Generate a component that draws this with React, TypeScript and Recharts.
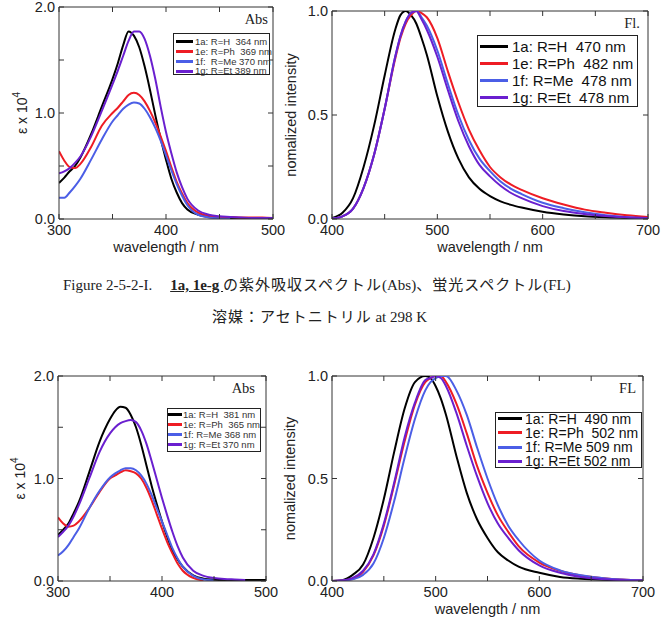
import { LineChart, Line, XAxis, YAxis, Legend, ReferenceLine, Label } from "recharts";

const SANS = '"Liberation Sans", Arial, sans-serif';
const SERIF = '"Liberation Serif", "Times New Roman", "Noto Sans CJK JP", serif';
const FRAME = "#333";
const TEXT = "#222";

const seriesColors = ["#000000", "#ee1c24", "#4b5ee6", "#6a1fcf"];

// absorption, first set (ε / 10^4)
const absWavelengths = [300, 305, 310, 315, 320, 330, 340, 350, 355, 360, 365, 370, 375, 380, 385, 390, 395, 400, 405, 410, 415, 420, 430, 440, 450, 460, 470, 480, 490, 500];
const absTop1a = [0.34, 0.39, 0.45, 0.5, 0.58, 0.8, 1.06, 1.32, 1.47, 1.64, 1.77, 1.73, 1.62, 1.44, 1.22, 0.98, 0.76, 0.56, 0.38, 0.25, 0.15, 0.09, 0.04, 0.02, 0.015, 0.01, 0.01, 0.01, 0.01, 0.01];
const absTop1e = [0.64, 0.55, 0.49, 0.48, 0.52, 0.68, 0.88, 1.0, 1.05, 1.11, 1.17, 1.19, 1.17, 1.11, 1.02, 0.91, 0.78, 0.64, 0.49, 0.35, 0.24, 0.15, 0.06, 0.03, 0.02, 0.02, 0.015, 0.015, 0.015, 0.01];
const absTop1f = [0.2, 0.2, 0.25, 0.31, 0.38, 0.56, 0.75, 0.92, 0.98, 1.04, 1.08, 1.1, 1.09, 1.04, 0.96, 0.86, 0.74, 0.6, 0.46, 0.33, 0.22, 0.13, 0.04, 0.015, 0.005, 0, null, null, null, null];
const absTop1g = [0.43, 0.45, 0.48, 0.53, 0.59, 0.78, 1.02, 1.27, 1.4, 1.54, 1.68, 1.77, 1.77, 1.7, 1.54, 1.32, 1.06, 0.82, 0.62, 0.44, 0.3, 0.19, 0.08, 0.04, 0.025, 0.02, 0.015, 0.01, 0.01, 0.01];
const absTopNames = ["1a: R=H  364 nm", "1e: R=Ph  369 nm", "1f:  R=Me 370 nm", "1g: R=Et 389 nm"];

// fluorescence, first set (normalized)
const flTopWavelengths = [400, 410, 420, 430, 440, 450, 460, 465, 470, 475, 480, 485, 490, 500, 510, 520, 530, 540, 550, 560, 570, 580, 600, 620, 640, 660, 680, 700];
const flTop1a = [0.005, 0.03, 0.1, 0.25, 0.45, 0.69, 0.91, 0.98, 1.0, 0.98, 0.94, 0.87, 0.79, 0.59, 0.42, 0.29, 0.2, 0.145, 0.11, 0.085, 0.068, 0.055, 0.035, 0.022, 0.013, 0.008, 0.005, 0.003];
const flTop1e = [0.002, 0.013, 0.05, 0.15, 0.31, 0.53, 0.77, 0.87, 0.94, 0.98, 1.0, 0.99, 0.97, 0.87, 0.71, 0.56, 0.43, 0.33, 0.25, 0.2, 0.165, 0.14, 0.1, 0.07, 0.045, 0.03, 0.018, 0.01];
const flTop1f = [0.002, 0.013, 0.05, 0.15, 0.31, 0.53, 0.78, 0.88, 0.95, 0.99, 1.0, 0.97, 0.93, 0.81, 0.65, 0.5, 0.38, 0.29, 0.23, 0.18, 0.145, 0.12, 0.078, 0.052, 0.032, 0.018, 0.009, 0.005];
const flTop1g = [0.002, 0.013, 0.05, 0.15, 0.31, 0.53, 0.78, 0.88, 0.95, 0.99, 1.0, 0.96, 0.91, 0.78, 0.62, 0.47, 0.35, 0.26, 0.205, 0.16, 0.125, 0.1, 0.062, 0.038, 0.024, 0.014, 0.008, 0.005];
const flTopNames = ["1a: R=H  470 nm", "1e: R=Ph  482 nm", "1f: R=Me  478 nm", "1g: R=Et  478 nm"];

// absorption, second set
const absBot1a = [0.45, 0.5, 0.56, 0.66, 0.77, 1.06, 1.36, 1.58, 1.66, 1.7, 1.69, 1.62, 1.5, 1.33, 1.13, 0.93, 0.75, 0.58, 0.43, 0.3, 0.21, 0.14, 0.055, 0.023, 0.013, 0.01, 0.01, 0.01, 0.01, 0.01];
const absBot1e = [0.62, 0.56, 0.53, 0.54, 0.58, 0.71, 0.87, 1.0, 1.03, 1.06, 1.08, 1.07, 1.05, 1.0, 0.91, 0.79, 0.65, 0.51, 0.38, 0.27, 0.17, 0.1, 0.03, 0.005, null, null, null, null, null, null];
const absBot1f = [0.25, 0.29, 0.35, 0.43, 0.51, 0.71, 0.88, 1.01, 1.05, 1.08, 1.1, 1.1, 1.08, 1.03, 0.95, 0.84, 0.71, 0.58, 0.45, 0.32, 0.22, 0.14, 0.05, 0.015, 0.005, null, null, null, null, null];
const absBot1g = [0.43, 0.48, 0.54, 0.63, 0.74, 1.0, 1.26, 1.44, 1.5, 1.54, 1.56, 1.57, 1.55, 1.47, 1.34, 1.17, 0.99, 0.81, 0.64, 0.48, 0.34, 0.23, 0.1, 0.05, 0.03, 0.02, 0.015, 0.01, null, null];
const absBotNames = ["1a: R=H  381 nm", "1e: R=Ph  365 nm", "1f: R=Me 368 nm", "1g: R=Et 370 nm"];

// fluorescence, second set
const flBotWavelengths = [400, 410, 420, 430, 440, 450, 460, 470, 480, 490, 495, 500, 505, 510, 520, 530, 540, 550, 560, 570, 580, 600, 620, 640, 660, 680, 700];
const flBot1a = [0, 0.004, 0.03, 0.08, 0.21, 0.4, 0.63, 0.84, 0.97, 1.0, 0.99, 0.95, 0.89, 0.81, 0.61, 0.43, 0.3, 0.21, 0.14, 0.1, 0.07, 0.04, 0.02, 0.011, 0.006, 0.003, 0.002];
const flBot1e = [0, 0.003, 0.01, 0.045, 0.125, 0.27, 0.47, 0.68, 0.86, 0.97, 0.99, 1.0, 1.0, 0.97, 0.865, 0.72, 0.56, 0.43, 0.32, 0.24, 0.17, 0.09, 0.05, 0.027, 0.015, 0.007, 0.003];
const flBot1f = [0, 0.002, 0.008, 0.03, 0.085, 0.21, 0.39, 0.6, 0.79, 0.93, 0.97, 0.99, 1.0, 1.0, 0.93, 0.81, 0.65, 0.5, 0.37, 0.27, 0.2, 0.1, 0.052, 0.028, 0.015, 0.007, 0.003];
const flBot1g = [0, 0.003, 0.015, 0.05, 0.13, 0.28, 0.48, 0.7, 0.87, 0.98, 0.99, 1.0, 0.99, 0.95, 0.82, 0.66, 0.51, 0.38, 0.28, 0.21, 0.15, 0.076, 0.04, 0.02, 0.01, 0.005, 0.002];
const flBotNames = ["1a: R=H  490 nm", "1e: R=Ph  502 nm", "1f: R=Me 509 nm", "1g: R=Et 502 nm"];

const absXTicks = [300, 350, 400, 450, 500];
const absXLabels = [300, 400, 500];
const absYTicks = [0, 0.5, 1, 1.5, 2];
const absYLabels = [0, 1, 2];
const flXTicks = [400, 450, 500, 550, 600, 650, 700];
const flXLabels = [400, 500, 600, 700];
const flYTicks = [0, 0.5, 1];
const flYLabels = [0, 0.5, 1];

const KEYS = ["s0", "s1", "s2", "s3"];

function toRows(xs: number[], ys: (number | null)[][]) {
  return xs.map((w, i) => {
    const row: Record<string, number | null> = { w };
    ys.forEach((s, k) => (row[KEYS[k]] = s[i]));
    return row;
  });
}

type LegendBox = {
  left: number; top: number; width: number; height: number;
  fontSize: number; rowH: number; firstCenter: number; padLeft: number;
  sampleW: number; sampleH: number; gap: number; color: string;
};

type PanelDef = {
  left: number; top: number; width: number; height: number;
  mTop: number; mRight: number; yAxisWidth: number; xAxisHeight: number;
  rows: Record<string, number | null>[]; names: string[];
  xDomain: [number, number]; xTicks: number[]; xLabels: number[];
  yDomain: [number, number]; yTicks: number[]; yLabels: number[];
  tag: string; tagRight: number;
  kind: "abs" | "fl"; yTitleX: number; xTitle: boolean;
  legend: LegendBox;
};

// boxed legend, each row placed at a fixed pitch
function legendContent(box: LegendBox) {
  return (props: any) => {
    const items = props.payload ?? [];
    return (
      <div
        style={{
          position: "relative", boxSizing: "border-box", width: box.width, height: box.height,
          border: "1px solid #222", background: "#fff",
          fontFamily: SANS, fontSize: box.fontSize, color: box.color,
        }}
      >
        {items.map((it: any, i: number) => (
          <div
            key={it.value}
            style={{
              position: "absolute", left: box.padLeft, top: box.firstCenter - 1 - box.rowH / 2 + i * box.rowH,
              height: box.rowH, display: "flex", alignItems: "center", whiteSpace: "pre", lineHeight: 1,
            }}
          >
            <span style={{ display: "inline-block", width: box.sampleW, height: box.sampleH, background: it.color, marginRight: box.gap }} />
            <span>{it.value}</span>
          </div>
        ))}
      </div>
    );
  };
}

function Panel({ p }: { p: PanelDef }) {
  const plotTop = p.mTop;
  const plotRight = p.width - p.mRight;
  const plotLeft = p.yAxisWidth;
  const plotBottom = p.height - p.xAxisHeight;
  const fmtX = (v: number) => String(v);
  const fmtY = (v: number) => v.toFixed(1);

  const xTick = (props: any) => {
    const { x, y, payload } = props;
    const v = payload.value;
    return (
      <g>
        <line x1={x} y1={y} x2={x} y2={y - 5} stroke={FRAME} />
        <line x1={x} y1={plotTop} x2={x} y2={plotTop + 5} stroke={FRAME} />
        {p.xLabels.includes(v) && (
          <text x={x} y={y + 16} textAnchor="middle" fontFamily={SANS} fontSize={14.5} fill={TEXT}>
            {fmtX(v)}
          </text>
        )}
      </g>
    );
  };

  const yTick = (props: any) => {
    const { x, y, payload } = props;
    const v = payload.value;
    return (
      <g>
        <line x1={x} y1={y} x2={x + 5} y2={y} stroke={FRAME} />
        <line x1={plotRight} y1={y} x2={plotRight - 5} y2={y} stroke={FRAME} />
        {p.yLabels.includes(v) && (
          <text x={x - 4} y={y + 5} textAnchor="end" fontFamily={SANS} fontSize={14.5} fill={TEXT}>
            {fmtY(v)}
          </text>
        )}
      </g>
    );
  };

  const cy = (plotTop + plotBottom) / 2;
  const yTitle = () =>
    p.kind === "abs" ? (
      <text x={p.yTitleX} y={cy} transform={`rotate(-90 ${p.yTitleX} ${cy})`} textAnchor="middle" fontFamily={SANS} fontSize={14} fill={TEXT}>
        ε x 10<tspan dy={-7} fontSize={10}>4</tspan>
      </text>
    ) : (
      <text x={p.yTitleX} y={cy} transform={`rotate(-90 ${p.yTitleX} ${cy})`} textAnchor="middle" fontFamily={SANS} fontSize={14.5} fill={TEXT}>
        nomalized intensity
      </text>
    );

  const xTitle = () => (
    <text x={(plotLeft + plotRight) / 2} y={plotBottom + 33} textAnchor="middle" fontFamily={SANS} fontSize={14.5} fill={TEXT}>
      wavelength / nm
    </text>
  );

  const tagLabel = () => (
    <text x={plotRight - p.tagRight} y={plotTop + 17} textAnchor="end" fontFamily={SERIF} fontSize={14.5} fill={TEXT}>
      {p.tag}
    </text>
  );

  return (
    <div style={{ position: "absolute", left: p.left, top: p.top }}>
      <LineChart width={p.width} height={p.height} data={p.rows} margin={{ top: p.mTop, right: p.mRight, bottom: 0, left: 0 }}>
        <XAxis
          dataKey="w" type="number" domain={p.xDomain} ticks={p.xTicks} interval={0}
          height={p.xAxisHeight} tickSize={0} tickMargin={0} tickLine={false}
          axisLine={{ stroke: FRAME }} tick={xTick} allowDataOverflow
        >
          {p.xTitle ? <Label content={xTitle} /> : null}
        </XAxis>
        <YAxis
          type="number" domain={p.yDomain} ticks={p.yTicks} interval={0}
          width={p.yAxisWidth} tickSize={0} tickMargin={0} tickLine={false}
          axisLine={{ stroke: FRAME }} tick={yTick} allowDataOverflow
        >
          <Label content={yTitle} />
        </YAxis>
        <ReferenceLine y={p.yDomain[1]} stroke={FRAME} label={tagLabel} />
        <ReferenceLine x={p.xDomain[1]} stroke={FRAME} />
        {p.names.map((name, k) => (
          <Line
            key={name} dataKey={KEYS[k]} name={name} type="monotone"
            stroke={seriesColors[k]} strokeWidth={2} dot={false} activeDot={false}
            isAnimationActive={false}
          />
        ))}
        <Legend
          content={legendContent(p.legend)}
          layout="vertical" align="center" verticalAlign="middle"
          wrapperStyle={{ left: p.legend.left, top: p.legend.top, width: p.legend.width, height: p.legend.height }}
        />
      </LineChart>
    </div>
  );
}

const panels: PanelDef[] = [
  {
    left: 0, top: 0, width: 285, height: 260, mTop: 7, mRight: 12, yAxisWidth: 59, xAxisHeight: 41,
    rows: toRows(absWavelengths, [absTop1a, absTop1e, absTop1f, absTop1g]), names: absTopNames,
    xDomain: [300, 500], xTicks: absXTicks, xLabels: absXLabels,
    yDomain: [0, 2], yTicks: absYTicks, yLabels: absYLabels,
    tag: "Abs", tagRight: 5, kind: "abs", yTitleX: 27, xTitle: true,
    legend: { left: 173, top: 33, width: 97, height: 42, fontSize: 9.5, rowH: 9.7, firstCenter: 9, padLeft: 2, sampleW: 17, sampleH: 3, gap: 2, color: "#333" },
  },
  {
    left: 280, top: 0, width: 382, height: 260, mTop: 11, mRight: 14, yAxisWidth: 52, xAxisHeight: 41,
    rows: toRows(flTopWavelengths, [flTop1a, flTop1e, flTop1f, flTop1g]), names: flTopNames,
    xDomain: [400, 700], xTicks: flXTicks, xLabels: flXLabels,
    yDomain: [0, 1], yTicks: flYTicks, yLabels: flYLabels,
    tag: "Fl.", tagRight: 8, kind: "fl", yTitleX: 16, xTitle: true,
    legend: { left: 197, top: 35, width: 161, height: 72, fontSize: 15, rowH: 17, firstCenter: 11, padLeft: 2, sampleW: 28, sampleH: 3, gap: 4, color: "#111" },
  },
  {
    left: 0, top: 360, width: 278, height: 261, mTop: 16, mRight: 12, yAxisWidth: 58, xAxisHeight: 40,
    rows: toRows(absWavelengths, [absBot1a, absBot1e, absBot1f, absBot1g]), names: absBotNames,
    xDomain: [300, 500], xTicks: absXTicks, xLabels: absXLabels,
    yDomain: [0, 2], yTicks: absYTicks, yLabels: absYLabels,
    tag: "Abs", tagRight: 11, kind: "abs", yTitleX: 25, xTitle: false,
    legend: { left: 167, top: 48, width: 94, height: 44, fontSize: 9.5, rowH: 10, firstCenter: 6.5, padLeft: 0, sampleW: 14, sampleH: 3, gap: 1, color: "#333" },
  },
  {
    left: 280, top: 360, width: 382, height: 261, mTop: 16, mRight: 19, yAxisWidth: 52, xAxisHeight: 40,
    rows: toRows(flBotWavelengths, [flBot1a, flBot1e, flBot1f, flBot1g]), names: flBotNames,
    xDomain: [400, 700], xTicks: flXTicks, xLabels: flXLabels,
    yDomain: [0, 1], yTicks: flYTicks, yLabels: flYLabels,
    tag: "FL", tagRight: 7, kind: "fl", yTitleX: 15, xTitle: true,
    legend: { left: 215, top: 52, width: 147, height: 56, fontSize: 14, rowH: 14.3, firstCenter: 6.5, padLeft: 2, sampleW: 24, sampleH: 3, gap: 3, color: "#111" },
  },
];

const jp = { letterSpacing: 1 };

export default function App() {
  return (
    <div style={{ position: "absolute", left: 0, top: 0, width: 662, height: 621, background: "#fff", overflow: "hidden" }}>
      {panels.map((p, i) => (
        <Panel key={i} p={p} />
      ))}
      <div style={{ position: "absolute", left: 63, top: 275, fontFamily: SERIF, fontSize: 15, lineHeight: "20px", whiteSpace: "pre", color: TEXT }}>
        Figure 2-5-2-I.
        <span style={{ marginLeft: 18, fontWeight: "bold", textDecoration: "underline" }}>1a, 1e-g </span>
        <span style={jp}>の紫外吸収スペクトル</span>(Abs)<span style={jp}>、蛍光スペクトル</span>(FL)
      </div>
      <div style={{ position: "absolute", left: 212, top: 307, fontFamily: SERIF, fontSize: 15, lineHeight: "20px", whiteSpace: "pre", color: TEXT }}>
        <span style={jp}>溶媒：アセトニトリル</span> at 298 K
      </div>
    </div>
  );
}
